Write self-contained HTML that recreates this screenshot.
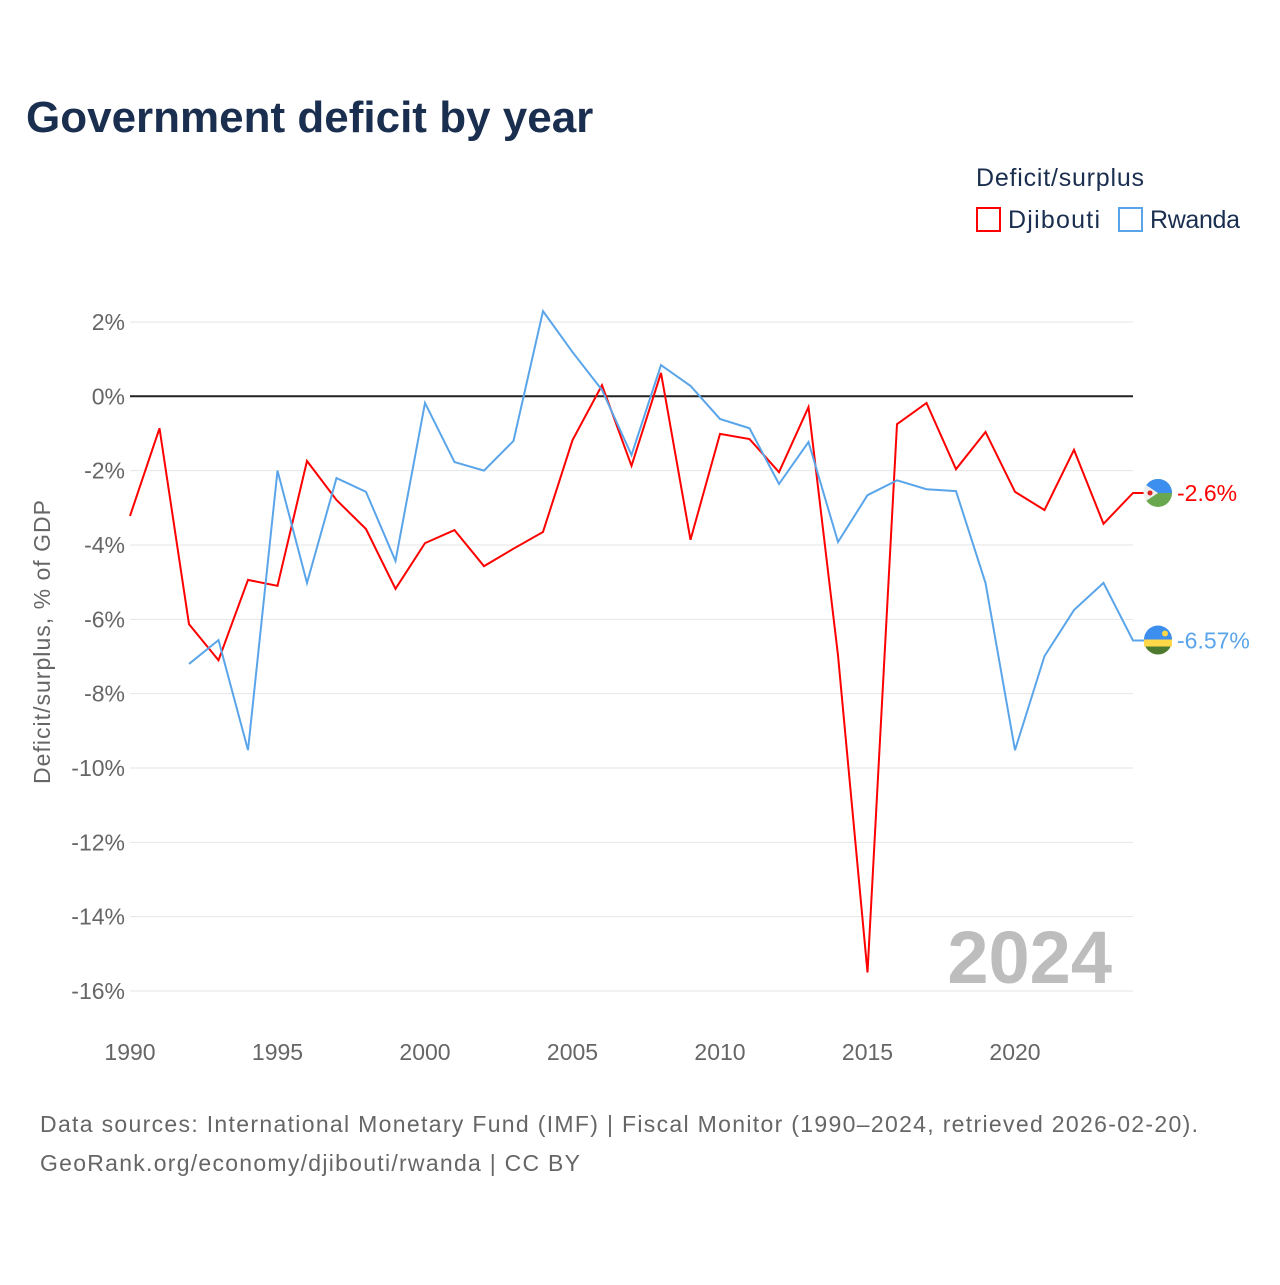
<!DOCTYPE html>
<html><head><meta charset="utf-8"><style>
body{margin:0;background:#fff;width:1280px;height:1280px;overflow:hidden;font-family:"Liberation Sans","DejaVu Sans",sans-serif}
</style></head><body>
<svg width="1280" height="1280" xmlns="http://www.w3.org/2000/svg">
<text x="26" y="132" font-size="44" font-weight="bold" fill="#1a2e4f">Government deficit by year</text>
<text x="976" y="186" font-size="25" fill="#1a2e4f" textLength="168">Deficit/surplus</text>
<g><rect x="977" y="208" width="23" height="23" fill="none" stroke="#f00" stroke-width="2"/><text x="1008" y="228" font-size="25" fill="#1a2e4f" textLength="92">Djibouti</text></g>
<g><rect x="1119" y="208" width="23" height="23" fill="none" stroke="#5aa5ea" stroke-width="2"/><text x="1150" y="228" font-size="25" fill="#1a2e4f" textLength="90">Rwanda</text></g>
<g id="grid"></g><g id="yticks"></g><g id="xticks"></g>
<text transform="translate(50,642) rotate(-90)" text-anchor="middle" font-size="23" fill="#666" textLength="284">Deficit/surplus, % of GDP</text>
<text x="1112" y="983" text-anchor="end" font-size="74" font-weight="bold" fill="#bdbdbd">2024</text>
<g id="series"></g>
<text x="40" y="1132" font-size="23" fill="#666" textLength="1158">Data sources: International Monetary Fund (IMF) | Fiscal Monitor (1990–2024, retrieved 2026-02-20).</text>
<text x="40" y="1171" font-size="23" fill="#666" textLength="540">GeoRank.org/economy/djibouti/rwanda | CC BY</text>
</svg>
<script>
const years=[];for(let y=1990;y<=2024;y++)years.push(y);
const djibouti=[-3.22,-0.86,-6.13,-7.1,-4.94,-5.1,-1.74,-2.79,-3.57,-5.18,-3.95,-3.6,-4.57,-4.1,-3.65,-1.18,0.3,-1.87,0.63,-3.86,-1.01,-1.15,-2.04,-0.29,-6.97,-15.5,-0.75,-0.18,-1.96,-0.96,-2.57,-3.06,-1.44,-3.43,-2.6];
const rwanda=[null,null,-7.2,-6.56,-9.52,-2.0,-5.02,-2.2,-2.57,-4.43,-0.18,-1.77,-2.0,-1.2,2.29,1.19,0.17,-1.58,0.84,0.28,-0.61,-0.86,-2.36,-1.23,-3.92,-2.66,-2.26,-2.5,-2.55,-5.02,-9.52,-6.99,-5.75,-5.02,-6.57];
const yTicks=[2,0,-2,-4,-6,-8,-10,-12,-14,-16];
const xTicks=[1990,1995,2000,2005,2010,2015,2020];
const X=y=>130+(y-1990)*29.5, Y=v=>396.3-v*37.17;
const NS="http://www.w3.org/2000/svg";
function mk(t,a,p){const e=document.createElementNS(NS,t);for(const k in a)e.setAttribute(k,a[k]);p.appendChild(e);return e;}
const grid=document.getElementById('grid'),yt=document.getElementById('yticks'),xt=document.getElementById('xticks'),ser=document.getElementById('series');
yTicks.forEach(v=>{
 const l=mk('line',{x1:130,x2:1133,y1:Y(v),y2:Y(v),stroke:v===0?'#222':'#e6e6e6','stroke-width':v===0?2:1},grid);
 
 
 const t=mk('text',{x:125,y:Y(v)+8,'text-anchor':'end','font-size':23,fill:'#666'},yt);t.textContent=v+'%';
 
 
});
xTicks.forEach(y=>{
 const t=mk('text',{x:X(y),y:1060,'text-anchor':'middle','font-size':23,fill:'#666'},xt);t.textContent=y;
 
 
});
function line(data,color,name){
 let d='';data.forEach((v,i)=>{if(v===null)return;d+=(d?'L':'M')+X(years[i])+','+Y(v);});
 const last=data[data.length-1];d+='L1146,'+Y(last);
 const p=mk('path',{d:d,fill:'none',stroke:color,'stroke-width':2},ser);
 
 
 const t=mk('text',{x:1177,y:Y(last)+8,'font-size':23,fill:color},ser);t.textContent=last+'%';
 
 
 return Y(last);
}
const yd=line(djibouti,'#f00','djibouti');
const yr=line(rwanda,'#5aa5ea','rwanda');
let g=mk('g',{},ser);
mk('circle',{cx:1158,cy:yd,r:14,fill:'#6aa84f'},g);
mk('path',{d:`M1144,${yd} A14,14 0 0 1 1172,${yd} Z`,fill:'#3d8fef'},g);
mk('path',{d:`M1146,${yd-8} L1158,${yd} L1146,${yd+8} A14,14 0 0 1 1146,${yd-8}Z`,fill:'#eee'},g);
mk('circle',{cx:1150,cy:yd,r:2.5,fill:'#d22'},g);
g=mk('g',{},ser);
mk('circle',{cx:1158,cy:yr,r:14,fill:'#4d7a2e'},g);
mk('rect',{x:1144,y:yr-1,width:28,height:7,fill:'#ffd84a'},g);
mk('path',{d:`M1144,${yr-1} A14,14 0 0 1 1172,${yr-1}Z`,fill:'#3d8fef'},g);
mk('circle',{cx:1165,cy:yr-7,r:3,fill:'#ffd84a'},g);
</script>
</body></html>
